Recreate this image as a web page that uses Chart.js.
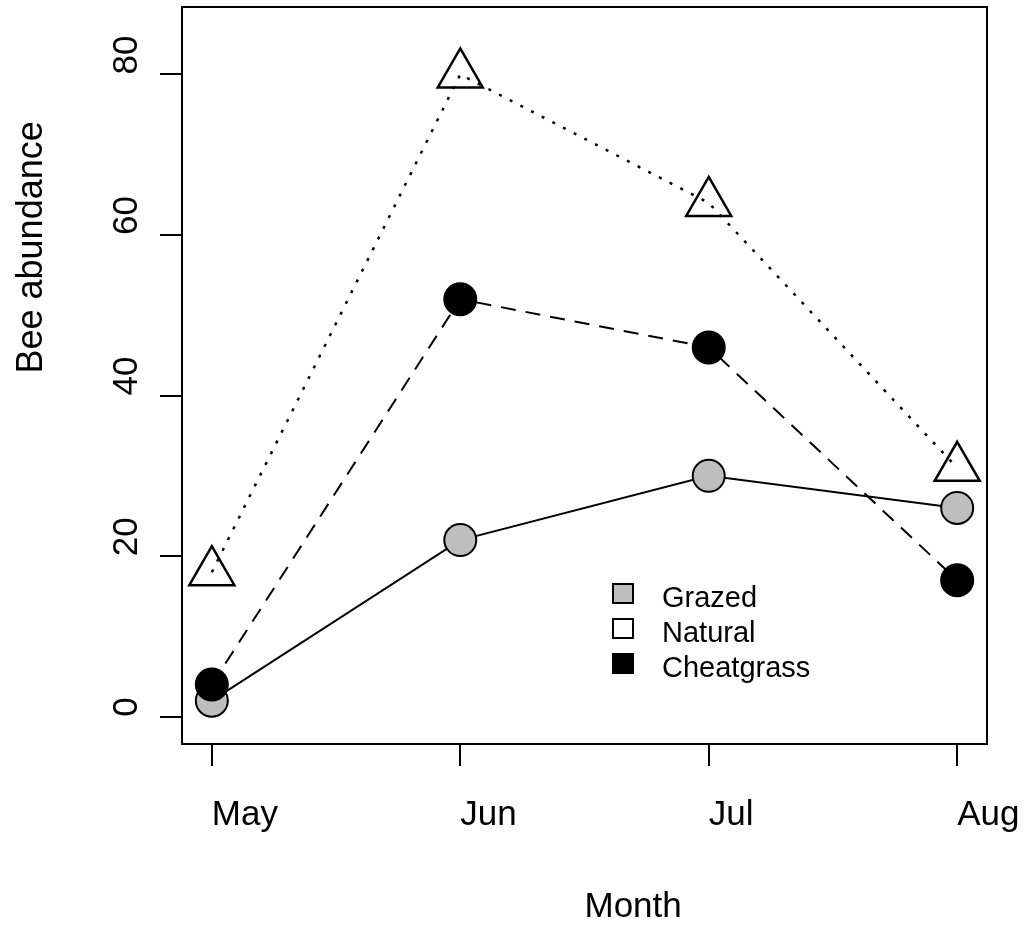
<!DOCTYPE html>
<html>
<head>
<meta charset="utf-8">
<script src="https://cdn.jsdelivr.net/npm/chart.js@4"></script>
<style>
  html, body { margin: 0; padding: 0; background: #fff; }
  canvas { display: block; }
</style>
</head>
<body>
<canvas id="beeChart" width="1024" height="926"></canvas>
<script>
const months = ['May', 'Jun', 'Jul', 'Aug'];
const monthPos = [1, 2, 3, 4];
const grazed = [2, 22, 30, 26];
const natural = [18, 80, 64, 31];
const cheatgrass = [4, 52, 46, 17];
const yTicks = [0, 20, 40, 60, 80];
const legendLabels = ['Grazed', 'Natural', 'Cheatgrass'];
const legendFills = ['#bebebe', '#ffffff', '#000000'];

const FONT = '"Liberation Sans", Arial, sans-serif';
const toPoints = vals => vals.map((v, i) => ({ x: monthPos[i], y: v }));

// no auto padding from the tick labels, the plot box is fixed
function noPad(s) {
  s.paddingLeft = 0; s.paddingRight = 0; s.paddingTop = 0; s.paddingBottom = 0;
}

function rotatedText(ctx, text, x, y) {
  ctx.save();
  ctx.translate(x, y);
  ctx.rotate(-Math.PI / 2);
  ctx.fillText(text, 0, 0);
  ctx.restore();
}

// box, axis texts that start at their anchor (adj = 0 like in R), legend
const boxAndLegend = {
  id: 'boxAndLegend',
  afterDraw(chart) {
    const { ctx, chartArea: a } = chart;
    const yScale = chart.scales.y;
    ctx.save();
    ctx.strokeStyle = '#000';
    ctx.lineWidth = 2;
    ctx.strokeRect(a.left, a.top, a.right - a.left, a.bottom - a.top);

    ctx.fillStyle = '#000';
    ctx.textAlign = 'left';
    ctx.textBaseline = 'alphabetic';

    // y tick labels, reading upwards from the tick
    ctx.font = '35px ' + FONT;
    yTicks.forEach(v => rotatedText(ctx, String(v), a.left - 45, yScale.getPixelForValue(v)));

    // axis titles
    ctx.font = '36px ' + FONT;
    rotatedText(ctx, 'Bee abundance', 42, (a.top + a.bottom) / 2 - 2);
    ctx.font = '35px ' + FONT;
    ctx.fillText('Month', (a.left + a.right) / 2, 917);

    // legend
    ctx.font = '29px ' + FONT;
    legendLabels.forEach((label, i) => {
      const baseY = a.top + 600 + i * 35;
      ctx.fillStyle = legendFills[i];
      ctx.fillRect(a.left + 431, baseY - 23, 20, 19);
      ctx.strokeRect(a.left + 431, baseY - 23, 20, 19);
      ctx.fillStyle = '#000';
      ctx.fillText(label, a.left + 480, baseY);
    });
    ctx.restore();
  }
};

new Chart(document.getElementById('beeChart'), {
  type: 'line',
  data: {
    datasets: [
      {
        label: 'Cheatgrass', data: toPoints(cheatgrass),
        borderColor: '#000', borderWidth: 2, borderDash: [15, 10],
        pointStyle: 'circle', pointRadius: 16,
        pointBackgroundColor: '#000', pointBorderColor: '#000', pointBorderWidth: 2
      },
      {
        label: 'Natural', data: toPoints(natural),
        borderColor: '#000', borderWidth: 2.5, borderDash: [3, 9],
        pointStyle: 'triangle', pointRadius: 26,
        pointBackgroundColor: 'rgba(255,255,255,0)', pointBorderColor: '#000', pointBorderWidth: 2.5
      },
      {
        label: 'Grazed', data: toPoints(grazed),
        borderColor: '#000', borderWidth: 2,
        pointStyle: 'circle', pointRadius: 16,
        pointBackgroundColor: '#bebebe', pointBorderColor: '#000', pointBorderWidth: 2
      }
    ]
  },
  options: {
    responsive: false,
    animation: false,
    layout: { autoPadding: false, padding: { top: 7, right: 37, left: 0, bottom: 0 } },
    elements: { line: { tension: 0 } },
    plugins: { legend: { display: false }, tooltip: { enabled: false } },
    scales: {
      x: {
        type: 'linear', min: 0.88, max: 4.12,
        afterBuildTicks: s => { s.ticks = monthPos.map(v => ({ value: v })); },
        afterFit: s => { s.height = 182; noPad(s); },
        grid: { drawOnChartArea: false, drawTicks: true, tickLength: 22, color: '#000', lineWidth: 2 },
        border: { display: false },
        ticks: {
          align: 'start', padding: 28, color: '#000',
          font: { family: FONT, size: 35 },
          callback: (v, i) => months[i]
        }
      },
      y: {
        type: 'linear', min: -3.4, max: 88.4,
        afterBuildTicks: s => { s.ticks = yTicks.map(v => ({ value: v })); },
        afterFit: s => { s.width = 182; noPad(s); },
        grid: { drawOnChartArea: false, drawTicks: true, tickLength: 22, color: '#000', lineWidth: 2 },
        border: { display: false },
        ticks: { display: false }
      }
    }
  },
  plugins: [boxAndLegend]
});
</script>
</body>
</html>
